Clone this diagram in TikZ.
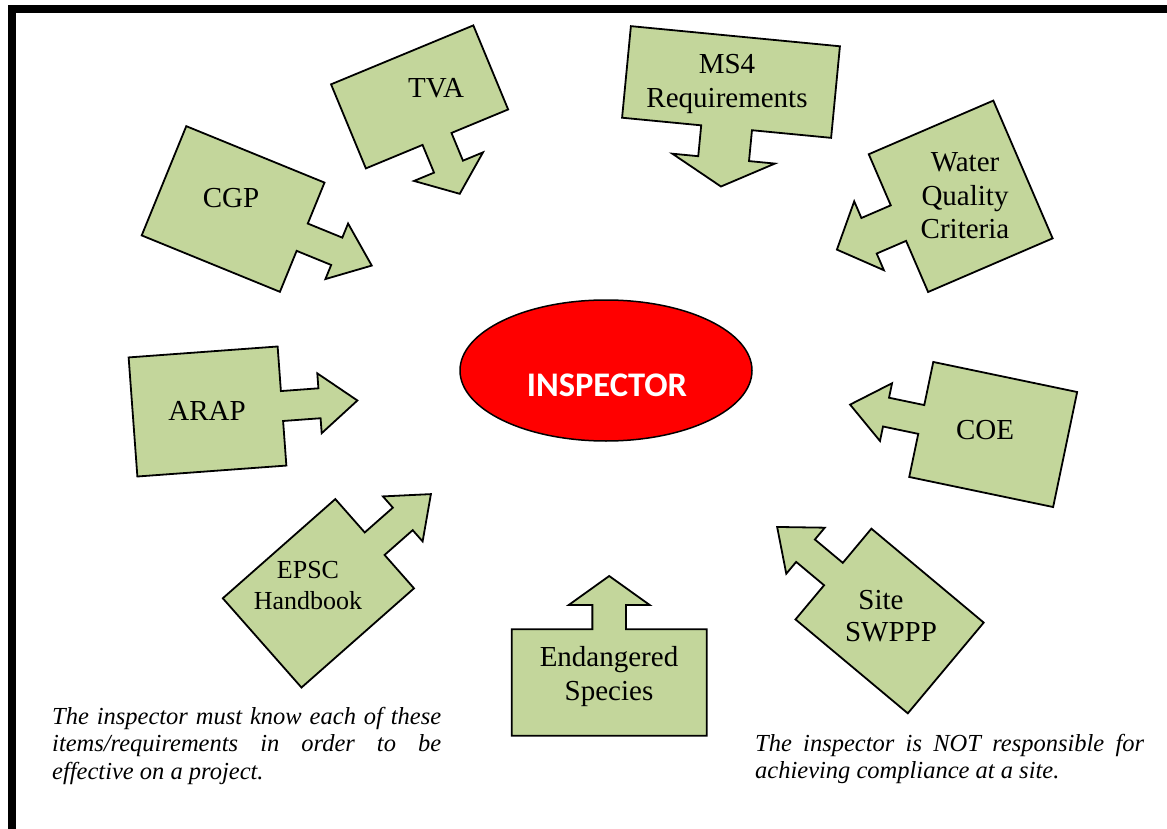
\documentclass[tikz,border=0pt]{standalone}
\usepackage{fontspec}
\usetikzlibrary{shapes.geometric}
\setmainfont{Liberation Serif}
\newfontfamily\calibrifont{Carlito}
\definecolor{boxgreen}{RGB}{195,214,155}
\definecolor{inspred}{RGB}{255,0,0}
\tikzset{
  callbox/.style={draw=black, fill=boxgreen, line width=1.8pt, line join=miter},
  boxtext/.style={align=center, font=\fontsize{29}{33.5}\selectfont, inner sep=0pt},
  note/.style={font=\fontsize{24.5}{27.5}\selectfont\itshape, inner sep=0pt, anchor=base west},
}
% #1 center, #2 rotation, #3 w, #4 h, #5 shaft length, #6 head length, #7 shaft width, #8 head width
\newcommand\mycallout[8]{%
  \begin{scope}[shift={#1}, rotate=#2]
    \pgfmathsetmacro\cbW{#3/2}\pgfmathsetmacro\cbH{#4/2}
    \pgfmathsetmacro\cbA{#3/2+#5}\pgfmathsetmacro\cbT{#3/2+#5+#6}
    \pgfmathsetmacro\cbS{#7/2}\pgfmathsetmacro\cbHW{#8/2}
    \draw[callbox] (-\cbW,-\cbH) -- (\cbW,-\cbH) -- (\cbW,-\cbS) -- (\cbA,-\cbS)
      -- (\cbA,-\cbHW) -- (\cbT,0) -- (\cbA,\cbHW) -- (\cbA,\cbS) -- (\cbW,\cbS)
      -- (\cbW,\cbH) -- (-\cbW,\cbH) -- cycle;
  \end{scope}}
\begin{document}
\begin{tikzpicture}[x=1pt,y=-1pt]
\useasboundingbox (0,0) rectangle (1167,829);
\fill[white] (0,0) rectangle (1167,829);
\draw[line width=8pt, line join=miter] (12,829) -- (12,9.5) -- (1167,9.5);

% callout shapes
\mycallout{(233.1,209)}{-22.2}{149.3}{118}{37.3}{37.8}{29.5}{60}   % CGP
\mycallout{(419.6,96.9)}{-67.5}{91}{154}{30}{29.4}{31.3}{74.7}     % TVA
\mycallout{(731,82)}{-95.5}{92}{210}{31}{28}{51}{103}              % MS4
\mycallout{(960.7,196.3)}{-156.7}{135.6}{150}{32}{35}{38.7}{75}    % Water Quality
\mycallout{(207.5,411.5)}{4.2}{149.4}{119.4}{37.6}{38}{30}{60}     % ARAP
\mycallout{(993.2,434.5)}{168.2}{147}{117.5}{36}{36.7}{29.4}{59}   % COE
\mycallout{(318.4,593.3)}{41.4}{150}{119}{37.5}{37.5}{30}{60}      % EPSC
\mycallout{(609.2,682.5)}{90}{106.4}{195}{24.3}{29}{33.7}{81}      % Endangered
\mycallout{(889.6,621)}{140.1}{146.4}{118.3}{36.4}{37}{29.2}{60}   % Site SWPPP

% texts in boxes
\node[boxtext] (tva) at (436,88) {TVA};
\node[boxtext] (cgp) at (231,198) {CGP};
\node[boxtext] (ms4) at (727,84) {MS4\\Requirements};
\node[boxtext] (wqc) at (965,196) {Water\\Quality\\Criteria};
\node[boxtext] (arap) at (207,411) {ARAP};
\node[boxtext] (coe) at (985,430) {COE};
\node[boxtext, font=\fontsize{26}{31}\selectfont] (epsc) at (308,586) {EPSC\\Handbook};
\node[boxtext] (end) at (609,676.5) {Endangered\\Species};
\node[boxtext] (site) at (881,600) {Site};
\node[boxtext] (swppp) at (891,632) {SWPPP};

% center ellipse
\node[draw=black, fill=inspred, line width=1.5pt, ellipse, minimum width=292pt, minimum height=141pt, inner sep=0pt] (insp) at (606,370.5) {};
\node[font=\calibrifont\bfseries\fontsize{34.5}{40}\selectfont, text=white, inner sep=0pt] (insptxt) at (607,385) {INSPECTOR};

% notes
\node[note] (n1) at (52,724) {\makebox[389pt][s]{The inspector must know each of these}};
\node[note] (n2) at (52,751.5) {\makebox[389pt][s]{items/requirements in order to be}};
\node[note] (n3) at (52,779) {effective on a project.};
\node[note] (n4) at (755,751) {\makebox[389pt][s]{The inspector is NOT responsible for}};
\node[note] (n5) at (755,778.5) {achieving compliance at a site.};
\end{tikzpicture}
\end{document}
